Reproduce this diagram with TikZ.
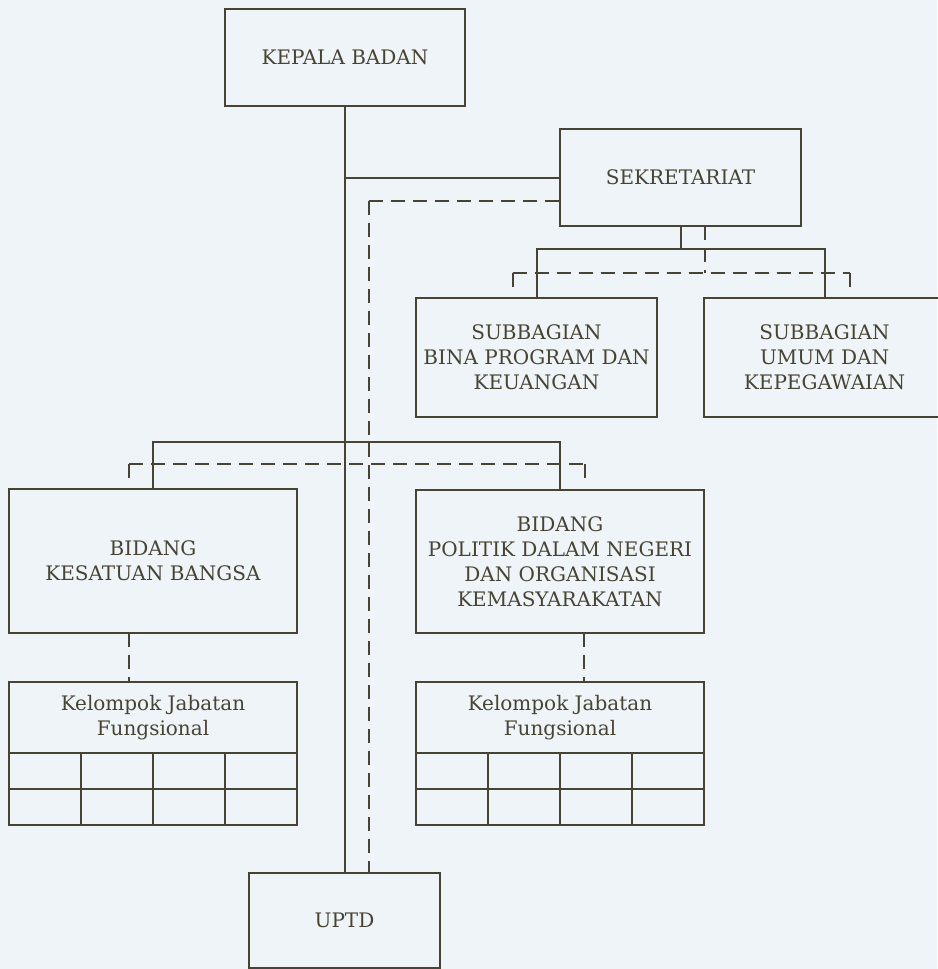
\documentclass[tikz,border=0pt]{standalone}
\usepackage{fontspec}
\setmainfont{DejaVu Serif}
\definecolor{bgc}{RGB}{238,244,247}
\definecolor{ink}{RGB}{72,68,52}
\begin{document}
\begin{tikzpicture}[x=1pt,y=-1pt,
  box/.style={draw=ink, line width=2pt, rectangle, inner sep=0pt, outer sep=0pt, align=center,
    text=ink, font=\fontsize{20}{25}\selectfont},
  conn/.style={draw=ink, line width=2pt},
  dconn/.style={draw=ink, line width=2pt, dash pattern=on 14pt off 8pt},
]
\fill[bgc] (0,0) rectangle (937,969);
\useasboundingbox (0,0) rectangle (937,969);

\node[box, minimum width=240pt, minimum height=97pt] (kb) at (345,57.5) {KEPALA BADAN};
\node[box, minimum width=241pt, minimum height=97pt] (sek) at (680.5,177.5) {SEKRETARIAT};
\node[box, minimum width=241pt, minimum height=119pt] (sub1) at (536.5,357.5) {SUBBAGIAN\\BINA PROGRAM DAN\\KEUANGAN};
\node[box, minimum width=241pt, minimum height=119pt] (sub2) at (824.5,357.5) {SUBBAGIAN\\UMUM DAN\\KEPEGAWAIAN};
\node[box, minimum width=288pt, minimum height=144pt] (bid1) at (153,561) {BIDANG\\KESATUAN BANGSA};
\node[box, minimum width=288pt, minimum height=143pt] (bid2) at (560,561.5) {BIDANG\\POLITIK DALAM NEGERI\\DAN ORGANISASI\\KEMASYARAKATAN};
\node[box, minimum width=288pt, minimum height=71pt] (kel1) at (153,717.5) {Kelompok Jabatan\\Fungsional};
\node[box, minimum width=288pt, minimum height=71pt] (kel2) at (560,717.5) {Kelompok Jabatan\\Fungsional};
\node[box, minimum width=191pt, minimum height=95pt] (uptd) at (344.5,920.5) {UPTD};

% tables under Kelompok Jabatan Fungsional
\foreach \k in {kel1,kel2}{
  \draw[conn] (\k.south west) rectangle ++(288,72);
  \draw[conn] ([yshift=-36pt]\k.south west) -- ++(288,0);
  \foreach \i in {1,2,3}
    \draw[conn] ([xshift=\i*72pt]\k.south west) -- ++(0,72);
}

% solid lines
\draw[conn] (kb.south) -- (kb.south |- uptd.north);
\draw[conn] (kb.south |- sek.west) -- (sek.west);
\draw[conn] (sek.south) -- ++(0,23) coordinate (sj);
\draw[conn] (sub1.north) |- (sj) -| (sub2.north);
\coordinate (bj) at (345,442);
\draw[conn] (bid1.north) |- (bj) -| (bid2.north);

% dashed lines
\coordinate (dc) at (369,201);
\draw[dconn] (dc) -- (sek.west |- dc);
\draw[dconn] (dc) -- (dc |- uptd.north);

\draw[dconn] ([xshift=24pt]sek.south) -- ++(0,47) coordinate (sdj);
\coordinate (sdl) at ([xshift=-24pt]sub1.north |- sdj);
\coordinate (sdr) at ([xshift=25pt]sub2.north |- sdj);
\draw[dconn] (sdl) -- (sdr);
\draw[dconn] (sdl) -- ([xshift=-24pt,yshift=10pt]sub1.north);
\draw[dconn] (sdr) -- ([xshift=25pt,yshift=10pt]sub2.north);

\coordinate (bdl) at (129,464);
\coordinate (bdr) at (585,464);
\draw[dconn] (bdl) -- (bdr);
\draw[dconn] (bdl) -- ([xshift=-24pt,yshift=10pt]bid1.north);
\draw[dconn] (bdr) -- ([xshift=25pt,yshift=10pt]bid2.north);

\draw[dconn] ([xshift=-24pt]bid1.south) -- ([xshift=-24pt]kel1.north);
\draw[dconn] ([xshift=24pt]bid2.south) -- ([xshift=24pt]kel2.north);
\end{tikzpicture}
\end{document}
